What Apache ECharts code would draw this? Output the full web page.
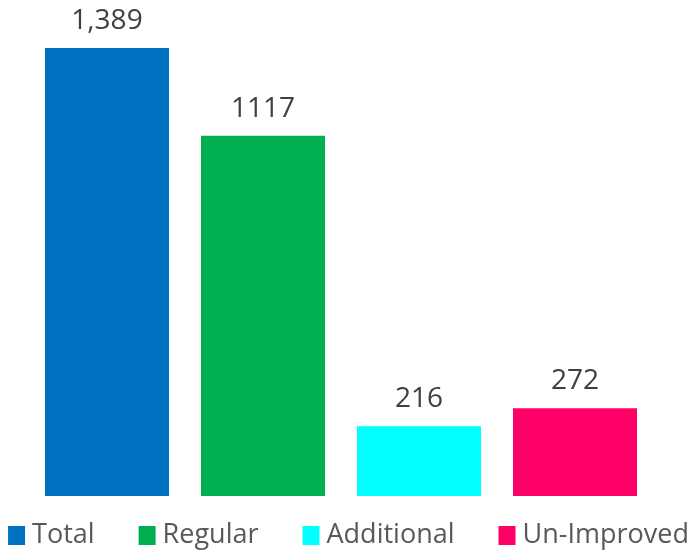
<!DOCTYPE html>
<html>
<head>
<meta charset="utf-8">
<script src="https://cdn.jsdelivr.net/npm/echarts@6/dist/echarts.min.js"></script>
<style>
  html, body { margin: 0; padding: 0; background: #fff; }
  #chart { width: 697px; height: 551px; }
</style>
</head>
<body>
<div id="chart"></div>
<script>
const categories = ['Total', 'Regular', 'Additional', 'Un-Improved']
const values = [1389, 1117, 216, 272]
const labels = ['1,389', '1117', '216', '272']
const colors = ['#0070C0', '#00B050', '#00FFFF', '#FF0066']

const chart = echarts.init(document.getElementById('chart'))

const series = categories.map((name, i) => ({
  name: name,
  type: 'bar',
  stack: 'all',
  barWidth: 124,
  data: values.map((v, j) => (j === i ? v : null)),
  itemStyle: { color: colors[i] },
  label: {
    show: true,
    position: 'top',
    distance: 13,
    formatter: () => labels[i],
    color: '#404040',
    fontSize: 28,
    fontFamily: 'Open Sans'
  }
}))

chart.setOption({
  animation: false,
  grid: { left: 29, right: 44, top: 48, bottom: 55 },
  legend: {
    bottom: -3,
    left: 'center',
    padding: [5, 0, 5, 8],
    itemWidth: 17,
    itemHeight: 19,
    itemGap: 44,
    icon: 'rect',
    textStyle: { color: '#595959', fontSize: 27, fontFamily: 'Open Sans', padding: [0, 0, 0, 2] },
    data: categories
  },
  xAxis: {
    type: 'category',
    data: categories,
    axisLine: { show: false },
    axisTick: { show: false },
    axisLabel: { show: false }
  },
  yAxis: {
    type: 'value',
    min: 0,
    max: 1389,
    show: false,
    splitLine: { show: false }
  },
  series: series
})
</script>
</body>
</html>
